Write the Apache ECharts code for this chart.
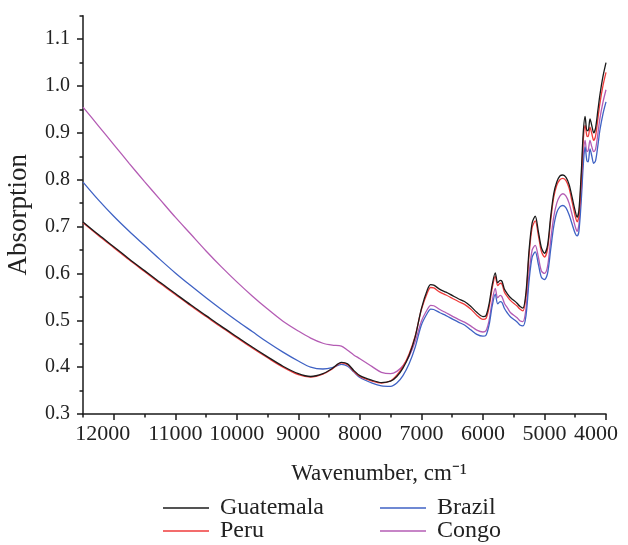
<!DOCTYPE html>
<html>
<head>
<meta charset="utf-8">
<script src="https://cdn.jsdelivr.net/npm/echarts@6/dist/echarts.min.js"></script>
<style>html,body{margin:0;padding:0;background:#fff;}#c{width:628px;height:545px;}</style>
</head>
<body>
<div id="c"></div>
<script>
const wavenumbers = [12500,12250,12000,11750,11500,11250,11000,10750,10500,10250,10000,9750,9500,9250,9000,
  8800,8600,8450,8300,8200,8100,8000,
  7800,7650,7500,7400,7300,7200,7100,7000,
  6900,6850,6800,6700,6600,6500,6400,6300,6200,6100,6000,
  5950,5900,5850,5800,5760,5720,5690,5650,5600,5550,
  5450,5400,5350,5300,5250,5200,5150,5100,5050,5000,
  4950,4900,4850,4800,4750,4700,4650,4600,4550,4500,
  4470,4440,4400,4370,4340,4310,4290,4260,4230,4200,
  4170,4130,4100,4050,4000];

const guatemala = [0.710,0.683,0.657,0.631,0.606,0.581,0.557,0.533,0.510,0.487,0.465,0.443,0.422,0.402,0.386,
  0.380,0.386,0.397,0.410,0.407,0.393,0.382,
  0.372,0.367,0.370,0.380,0.398,0.425,0.465,0.525,
  0.566,0.576,0.575,0.566,0.560,0.553,0.546,0.540,0.530,0.517,0.508,
  0.510,0.535,0.575,0.601,0.580,0.585,0.583,0.566,0.556,0.548,
  0.537,0.530,0.526,0.560,0.650,0.708,0.722,0.690,0.655,0.643,
  0.660,0.720,0.770,0.795,0.808,0.810,0.805,0.790,0.762,0.733,
  0.720,0.735,0.820,0.900,0.935,0.905,0.905,0.930,0.915,0.900,
  0.910,0.950,0.980,1.020,1.050];

const peru = [0.708,0.681,0.655,0.629,0.604,0.579,0.555,0.531,0.508,0.485,0.463,0.441,0.420,0.400,0.384,
  0.379,0.385,0.396,0.409,0.405,0.391,0.380,
  0.370,0.366,0.371,0.383,0.401,0.428,0.467,0.523,
  0.560,0.570,0.569,0.560,0.554,0.547,0.540,0.534,0.524,0.511,0.502,
  0.504,0.528,0.568,0.594,0.574,0.579,0.577,0.560,0.550,0.542,
  0.531,0.524,0.520,0.552,0.640,0.698,0.712,0.682,0.647,0.635,
  0.652,0.712,0.762,0.788,0.800,0.803,0.798,0.782,0.752,0.722,
  0.710,0.723,0.805,0.883,0.916,0.893,0.892,0.912,0.898,0.884,
  0.893,0.932,0.962,1.000,1.029];

const brazil = [0.795,0.757,0.722,0.690,0.660,0.630,0.601,0.574,0.548,0.523,0.499,0.476,0.453,0.432,0.413,
  0.400,0.396,0.399,0.406,0.402,0.390,0.378,
  0.366,0.360,0.359,0.366,0.382,0.407,0.443,0.490,
  0.516,0.524,0.523,0.516,0.510,0.503,0.496,0.490,0.480,0.470,0.466,
  0.468,0.490,0.530,0.556,0.535,0.540,0.538,0.525,0.515,0.507,
  0.497,0.490,0.488,0.510,0.585,0.635,0.646,0.620,0.592,0.587,
  0.600,0.650,0.700,0.730,0.742,0.745,0.740,0.725,0.705,0.685,
  0.680,0.690,0.760,0.830,0.870,0.840,0.838,0.866,0.850,0.835,
  0.840,0.875,0.905,0.940,0.966];

const congo = [0.955,0.915,0.875,0.835,0.796,0.758,0.720,0.684,0.648,0.614,0.582,0.552,0.524,0.498,0.477,
  0.462,0.451,0.447,0.445,0.436,0.426,0.418,
  0.401,0.389,0.386,0.391,0.403,0.423,0.455,0.498,
  0.524,0.532,0.531,0.523,0.516,0.509,0.502,0.496,0.488,0.479,0.475,
  0.478,0.500,0.540,0.568,0.548,0.553,0.550,0.536,0.526,0.516,
  0.506,0.499,0.497,0.525,0.600,0.650,0.660,0.635,0.605,0.600,
  0.615,0.670,0.720,0.750,0.765,0.770,0.765,0.750,0.725,0.700,
  0.690,0.705,0.780,0.850,0.884,0.860,0.862,0.884,0.870,0.860,
  0.865,0.900,0.930,0.965,0.992];

const xMajorTicks = [4000,5000,6000,7000,8000,9000,10000,11000,12000];
const xMinorTicks = [4500,5500,6500,7500,8500,9500,10500,11500,12500];
const yMajorTicks = [0.3,0.4,0.5,0.6,0.7,0.8,0.9,1.0,1.1];
const yMinorTicks = [0.35,0.45,0.55,0.65,0.75,0.85,0.95,1.05,1.15];

const FONT = 'Liberation Serif';
const pair = arr => wavenumbers.map((w, i) => [w, arr[i]]);

const chart = echarts.init(document.getElementById('c'), null, {renderer: 'canvas'});
const axisColor = '#1a1a1a';
const ts = size => ({fontFamily: FONT, fontSize: size, color: '#222'});

const colors = {Guatemala: '#1b1b1b', Peru: '#ef3b3b', Brazil: '#3f62c4', Congo: '#b45cb4'};
const legendPos = [['Guatemala', 163, 496], ['Peru', 163, 519], ['Brazil', 380, 496], ['Congo', 380, 519]];

function xLabel(v) {
  if (v === 12000) return '{l|' + v + '}';
  if (v === 4000) return '{r|' + v + '}';
  return String(v);
}

chart.setOption({
  animation: false,
  backgroundColor: '#fff',
  grid: {left: 83, right: 22, top: 15.7, bottom: 131, containLabel: false, outerBoundsMode: 'none'},
  xAxis: [{
    type: 'value', inverse: true, min: 4000, max: 12500, interval: 1000,
    name: 'Wavenumber, cm\u207B\u00B9', nameLocation: 'middle', nameGap: 48,
    nameTextStyle: Object.assign(ts(23), {padding: [0, 0, 0, 69]}),
    axisLine: {lineStyle: {color: axisColor, width: 1.5}},
    axisTick: {show: true, inside: false, length: 6, lineStyle: {color: axisColor, width: 1.5}, customValues: xMajorTicks},
    axisLabel: Object.assign(ts(22), {
      margin: 9, customValues: xMajorTicks, formatter: xLabel, hideOverlap: false,
      rich: {
        l: Object.assign(ts(22), {padding: [0, 22, 0, 0]}),
        r: Object.assign(ts(22), {padding: [0, 20, 0, 0]})
      }
    }),
    splitLine: {show: false}
  }, {
    type: 'value', inverse: true, min: 4000, max: 12500, position: 'bottom',
    axisLine: {show: false},
    axisTick: {show: true, inside: false, length: 3.5, lineStyle: {color: axisColor, width: 1.5}, customValues: xMinorTicks},
    axisLabel: {show: false},
    splitLine: {show: false}
  }],
  yAxis: [{
    type: 'value', min: 0.3, max: 1.15, interval: 0.1,
    name: 'Absorption', nameLocation: 'middle', nameGap: 51,
    nameTextStyle: ts(27),
    axisLine: {show: true, lineStyle: {color: axisColor, width: 1.5}},
    axisTick: {show: true, inside: false, length: 6, lineStyle: {color: axisColor, width: 1.5}, customValues: yMajorTicks},
    axisLabel: Object.assign(ts(20), {margin: 13, customValues: yMajorTicks, formatter: v => v.toFixed(1)}),
    splitLine: {show: false}
  }, {
    type: 'value', min: 0.3, max: 1.15, position: 'left',
    axisLine: {show: false},
    axisTick: {show: true, inside: false, length: 3.5, lineStyle: {color: axisColor, width: 1.5}, customValues: yMinorTicks},
    axisLabel: {show: false},
    splitLine: {show: false}
  }],
  legend: legendPos.map(([name, left, top]) => ({
    show: true, orient: 'horizontal', left: left, top: top, padding: 0,
    itemWidth: 46, itemHeight: 1.4, icon: 'rect',
    itemStyle: {color: colors[name]},
    textStyle: Object.assign(ts(24), {padding: [0, 0, 0, 6]}),
    data: [{name: name}]
  })),
  series: ['Congo', 'Brazil', 'Peru', 'Guatemala'].map(name => ({
    name: name, type: 'line',
    data: pair({Congo: congo, Brazil: brazil, Peru: peru, Guatemala: guatemala}[name]),
    color: colors[name],
    showSymbol: false, symbol: 'none', smooth: 0.3,
    lineStyle: {width: 1.3, color: colors[name]}, emphasis: {disabled: true}
  }))
});
</script>
</body>
</html>
